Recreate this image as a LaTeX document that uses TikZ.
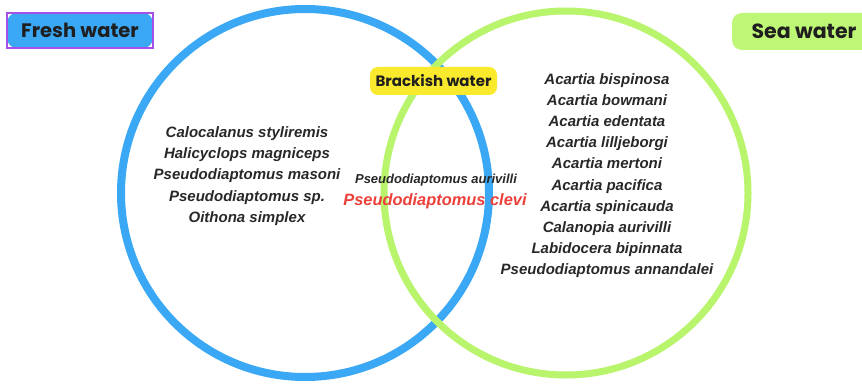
\documentclass[tikz,border=0pt]{standalone}
\usepackage{fontspec}
\setmainfont{Liberation Sans}
\newfontfamily\labelfont{Poppins}
\definecolor{fwblue}{RGB}{58,168,245}
\definecolor{swgreen}{RGB}{184,245,108}
\definecolor{swfill}{RGB}{190,246,118}
\definecolor{bwyellow}{RGB}{250,234,45}
\definecolor{selpurple}{RGB}{165,80,230}
\definecolor{txt}{RGB}{40,40,40}
\definecolor{redtxt}{RGB}{236,64,58}
\tikzset{
  species/.style={font=\fontsize{15}{21.2}\selectfont\bfseries\itshape, text=txt, align=center, inner sep=0pt},
  tag/.style={font=\labelfont\fontsize{19.5}{22}\selectfont\bfseries, text=black!88, rounded corners=9pt, inner sep=0pt, minimum height=33pt},
}
\begin{document}
\begin{tikzpicture}[x=1pt,y=-1pt]
\useasboundingbox (0,0) rectangle (862,385);
\fill[white] (0,0) rectangle (862,385);
% circles
\node[draw=fwblue, line width=8pt, circle, minimum size=368pt, inner sep=0pt] (fresh) at (305,193) {};
\node[draw=swgreen, line width=7pt, circle, minimum size=364pt, inner sep=0pt] (sea) at (566,193) {};
% labels
\node[tag, fill=fwblue, minimum width=145pt, minimum height=35pt] (freshlbl) at (80,30.5) {Fresh water};
\draw[selpurple, line width=1.3pt] (7,13) rectangle (153,48);
\fill[swfill, rounded corners=10pt] (732,13) rectangle (885,50);
\node[font=\labelfont\fontsize{20.5}{22}\selectfont\bfseries, text=black!88, inner sep=0pt] (sealbl) at (804,31) {Sea water};
\node[tag, fill=bwyellow, minimum width=127pt, minimum height=28pt, rounded corners=8pt, font=\labelfont\fontsize{15}{17}\selectfont\bfseries] (bracklbl) at (433.5,81) {Brackish water};
% species lists
\node[species, anchor=north] (freshlist) at (247,126.5) {Calocalanus styliremis\\Halicyclops magniceps\\Pseudodiaptomus masoni\\Pseudodiaptomus sp.\\Oithona simplex};
\node[species, anchor=north] (sealist) at (607,73) {Acartia bispinosa\\Acartia bowmani\\Acartia edentata\\Acartia lilljeborgi\\Acartia mertoni\\Acartia pacifica\\Acartia spinicauda\\Calanopia aurivilli\\Labidocera bipinnata\\Pseudodiaptomus annandalei};
\node[species, font=\fontsize{13}{15}\selectfont\bfseries\itshape] (aurivilli) at (436,180) {Pseudodiaptomus aurivilli};
\node[species, font=\fontsize{16.4}{18}\selectfont\bfseries\itshape, text=redtxt] (clevi) at (435,201) {Pseudodiaptomus clevi};
\end{tikzpicture}
\end{document}
